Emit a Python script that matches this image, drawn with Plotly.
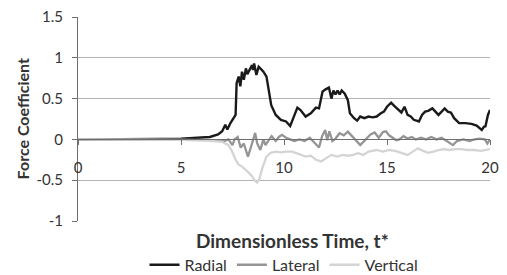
import plotly.graph_objects as go

# ---- data ----
t_radial = [0, 1, 2, 3, 4, 5, 5.5, 6, 6.4, 6.8, 7.0, 7.15, 7.25, 7.4, 7.55, 7.65, 7.7, 7.8, 7.88, 7.96,
            8.05, 8.15, 8.22, 8.32, 8.45, 8.5, 8.55, 8.66, 8.77, 8.85, 9.0, 9.15, 9.26, 9.38, 9.6, 9.85,
            10.1, 10.3, 10.45, 10.65, 10.8, 11.05, 11.3, 11.55, 11.7, 11.87, 12.0, 12.18, 12.3, 12.4,
            12.5, 12.6, 12.7, 12.8, 12.95, 13.1, 13.2, 13.4, 13.55, 13.7, 13.9, 14.1, 14.3, 14.5, 14.7,
            14.85, 15.0, 15.2, 15.35, 15.5, 15.7, 15.85, 16.0, 16.15, 16.3, 16.55, 16.7, 16.85, 17.0,
            17.2, 17.35, 17.5, 17.8, 17.95, 18.1, 18.26, 18.5, 18.8, 19.1, 19.35, 19.6, 19.7, 19.78,
            19.9, 20.0]
radial = [0, 0, 0, 0.005, 0.005, 0.01, 0.02, 0.03, 0.03, 0.06, 0.1, 0.18, 0.12, 0.2, 0.26, 0.3, 0.69,
          0.77, 0.65, 0.83, 0.73, 0.87, 0.8, 0.85, 0.91, 0.85, 0.93, 0.79, 0.89, 0.87, 0.83, 0.77, 0.6,
          0.42, 0.3, 0.24, 0.22, 0.165, 0.26, 0.39, 0.36, 0.28, 0.32, 0.39, 0.38, 0.585, 0.61, 0.635,
          0.5, 0.6, 0.55, 0.6, 0.55, 0.6, 0.56, 0.48, 0.32, 0.26, 0.23, 0.28, 0.26, 0.28, 0.27, 0.28,
          0.32, 0.34, 0.4, 0.45, 0.41, 0.38, 0.33, 0.4, 0.3, 0.28, 0.24, 0.22, 0.3, 0.34, 0.35, 0.38,
          0.34, 0.3, 0.38, 0.34, 0.33, 0.26, 0.2, 0.2, 0.19, 0.17, 0.115, 0.155, 0.16, 0.3, 0.36]

t_lateral = [0, 2, 4, 5, 6, 6.8, 7.1, 7.3, 7.5, 7.6, 7.75, 7.9, 8.05, 8.25, 8.4, 8.5, 8.6, 8.7, 8.85,
             9.0, 9.1, 9.2, 9.4, 9.6, 9.75, 9.9, 10.1, 10.3, 10.5, 10.75, 11.0, 11.25, 11.4, 11.55,
             11.7, 11.85, 12.0, 12.1, 12.2, 12.35, 12.5, 12.7, 12.9, 13.1, 13.25, 13.45, 13.7, 13.85,
             14.0, 14.2, 14.4, 14.6, 14.8, 14.95, 15.1, 15.3, 15.45, 15.6, 15.8, 16.0, 16.2, 16.4,
             16.65, 16.9, 17.15, 17.4, 17.65, 17.9, 18.2, 18.4, 18.7, 19.0, 19.25, 19.5, 19.75,
             19.87, 20.0]
lateral = [0, 0, 0, -0.005, -0.01, -0.01, -0.02, 0.0, -0.07, 0.0, 0.03, -0.1, -0.05, -0.21, -0.09,
           0.0, 0.08, -0.05, -0.13, 0.0, -0.07, -0.03, 0.04, -0.02, 0.03, 0.055, 0.02, 0.0, -0.02,
           0.0, -0.02, 0.02, -0.02, -0.07, -0.1, 0.04, 0.115, -0.01, 0.1, -0.02, 0.01, 0.075, 0.05,
           0.095, 0.05, 0.0, -0.07, -0.03, 0.02, 0.06, 0.085, 0.02, 0.09, 0.1, 0.05, 0.01, -0.01,
           0.0, 0.04, 0.01, 0.03, 0.0, 0.02, 0.0, 0.03, 0.0, 0.02, -0.02, -0.07, -0.02, 0.0, -0.02,
           0.0, 0.01, 0.0, -0.05, 0.0]

t_vertical = [0, 2, 4, 5, 6, 6.5, 7.0, 7.3, 7.45, 7.65, 7.8, 7.95, 8.15, 8.3, 8.45, 8.6, 8.7, 8.8,
              8.95, 9.05, 9.15, 9.35, 9.6, 9.85, 10.1, 10.4, 10.8, 11.05, 11.3, 11.55, 11.8, 12.05,
              12.3, 12.6, 12.85, 13.1, 13.35, 13.6, 13.85, 14.1, 14.5, 14.8, 15.1, 15.4, 15.75, 16.0,
              16.25, 16.5, 16.75, 17.0, 17.25, 17.5, 17.75, 18.0, 18.3, 18.6, 18.9, 19.25, 19.55,
              19.8, 20.0]
vertical = [0, 0, -0.005, -0.005, -0.01, -0.02, -0.03, -0.07, -0.13, -0.25, -0.31, -0.33, -0.37,
            -0.41, -0.45, -0.51, -0.53, -0.49, -0.35, -0.27, -0.21, -0.165, -0.15, -0.16, -0.15,
            -0.15, -0.19, -0.21, -0.2, -0.25, -0.27, -0.23, -0.19, -0.21, -0.19, -0.2, -0.19, -0.17,
            -0.19, -0.15, -0.13, -0.15, -0.13, -0.14, -0.17, -0.19, -0.15, -0.11, -0.14, -0.165,
            -0.15, -0.13, -0.12, -0.13, -0.12, -0.12, -0.13, -0.13, -0.14, -0.13, -0.12]

x_ticks = [0, 5, 10, 15, 20]
y_ticks = [1.5, 1, 0.5, 0, -0.5, -1]
y_tick_labels = ["1.5", "1", "0.5", "0", "-0.5", "-1"]

FONT = "Lato, 'Open Sans', sans-serif"
TXT = "#333333"
AX = "#6e6e6e"

fig = go.Figure()
fig.add_trace(go.Scatter(x=t_radial, y=radial, name="Radial", mode="lines",
                         line=dict(color="#1a1a1a", width=2.4)))
fig.add_trace(go.Scatter(x=t_lateral, y=lateral, name="Lateral", mode="lines",
                         line=dict(color="#959595", width=2.3)))
fig.add_trace(go.Scatter(x=t_vertical, y=vertical, name="Vertical", mode="lines",
                         line=dict(color="#d4d4d4", width=2.3)))

fig.update_layout(
    width=507, height=275,
    margin=dict(l=78, r=17, t=17, b=54, autoexpand=False),
    paper_bgcolor="white", plot_bgcolor="white",
    font=dict(family=FONT, size=15, color=TXT),
    showlegend=True,
    legend=dict(orientation="h", x=0.5, xanchor="center", y=-0.215, yanchor="middle",
                font=dict(size=16, color=TXT), itemwidth=30, tracegroupgap=0),
    xaxis=dict(range=[0, 20], tickvals=x_ticks, showgrid=False, zeroline=False,
               showline=True, linecolor=AX, linewidth=1,
               ticks="outside", ticklen=5, tickcolor=AX,
               anchor="free", position=0.4, ticklabelstandoff=10, automargin=False,
               tickfont=dict(size=15)),
    yaxis=dict(range=[-1, 1.5], tickvals=y_ticks, ticktext=y_tick_labels,
               showgrid=True, gridcolor="#b4b4b4", gridwidth=1, zeroline=False,
               showline=True, linecolor=AX, linewidth=1, automargin=False,
               ticks="outside", ticklen=5, tickcolor=AX, ticklabelstandoff=6,
               tickfont=dict(size=15)),
)
fig.add_annotation(text="<b>Dimensionless Time, t*</b>", xref="paper", yref="paper",
                   x=0.52, y=-0.098, xanchor="center", yanchor="middle",
                   showarrow=False, font=dict(size=19, color=TXT))
fig.add_annotation(text="<b>Force Coefficient</b>", xref="paper", yref="paper",
                   x=-0.135, y=0.50, xanchor="center", yanchor="middle", textangle=-90,
                   showarrow=False, font=dict(size=16, color=TXT))

fig.write_html("out.html", config={"displayModeBar": False},
               post_script="document.body.style.margin='0';")
